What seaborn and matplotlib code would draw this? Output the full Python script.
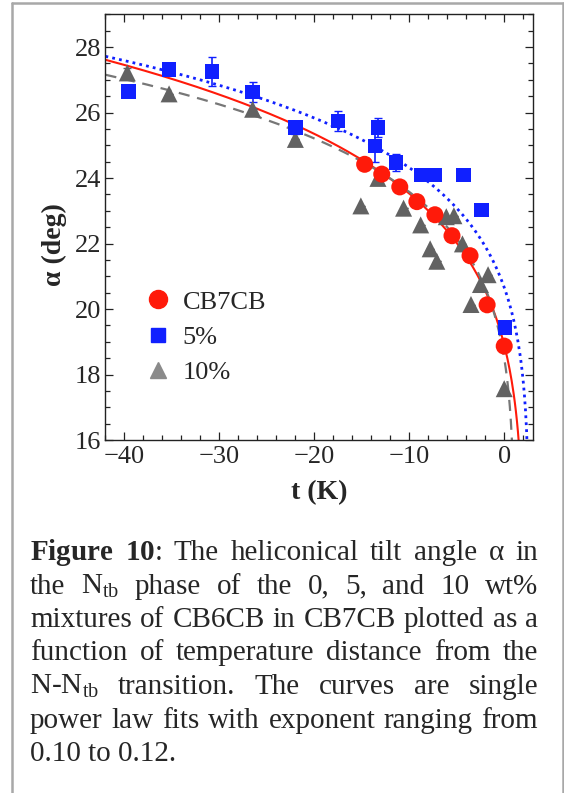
import numpy as np
import pandas as pd
import seaborn as sns
import matplotlib.pyplot as plt
from matplotlib.lines import Line2D
from matplotlib.ticker import MultipleLocator

# ---- data ----
# CB7CB (pure)
t_cb7 = [-14.7, -12.9, -11.0, -9.2, -7.3, -5.5, -3.6, -1.8, 0.0]
a_cb7 = [24.42, 24.12, 23.73, 23.28, 22.88, 22.24, 21.63, 20.13, 18.87]

# 5 wt% mixture
t_5 = [-39.6, -35.3, -30.8, -26.5, -22.0, -17.5, -13.3, -13.6, -11.4, -8.7, -7.3, -4.3, -2.4, 0.1]
a_5 = [26.65, 27.31, 27.26, 26.63, 25.54, 25.74, 25.54, 24.98, 24.47, 24.09, 24.09, 24.09, 23.02, 19.43]
err_5 = [0.15, 0.15, 0.45, 0.3, 0.2, 0.3, 0.3, 0.5, 0.25, 0, 0, 0, 0, 0]

# 10 wt% mixture
t_10 = [-39.7, -35.3, -26.5, -22.0, -15.1, -13.3, -10.6, -8.8, -7.8, -7.1, -6.1, -5.3, -4.4, -3.5, -2.5, -1.7, 0.0]
a_10 = [27.21, 26.57, 26.1, 25.18, 23.15, 23.99, 23.08, 22.57, 21.84, 21.46, 22.82, 22.85, 21.99, 20.14, 20.75, 21.05, 17.57]
err_10 = [0.15] + [0] * 16

# power law fits  alpha = A * (tc - t)^beta   (CB7CB, 5%, 10%)
fit_A = [17.3, 18.7, 18.36]
fit_tc = [2.05, 2.62, 1.075]
fit_beta = [0.1235, 0.1036, 0.104]

red = "#ff1a0a"
blue = "#1020ff"
gray = "#626262"

sns.set_style("ticks")
plt.rcParams['font.family'] = ['Liberation Serif', 'DejaVu Serif']
plt.rcParams['mathtext.fontset'] = 'custom'
plt.rcParams['mathtext.rm'] = 'Liberation Serif'
plt.rcParams['mathtext.it'] = 'Liberation Serif:italic'
plt.rcParams['mathtext.bf'] = 'Liberation Serif:bold'

fig = plt.figure(figsize=(5.64, 7.93), dpi=100)
ax = fig.add_axes([0.187, 0.445, 0.7575, 0.537])

# fit curves
styles = [dict(color=red, linestyle='-', linewidth=1.5),
          dict(color=blue, linestyle=(0, (1, 1.5)), linewidth=2.0),
          dict(color="#777777", linestyle=(0, (5, 3.5)), linewidth=1.6)]
for A, tc, b, st in zip(fit_A, fit_tc, fit_beta, styles):
    tt = np.concatenate([np.linspace(-42, tc - 0.05, 400), tc - np.logspace(-1.3, -6, 60)])
    sns.lineplot(x=tt, y=A * (tc - tt) ** b, ax=ax, sort=False, zorder=2, **st)

# error bars
ax.errorbar(t_10, a_10, yerr=err_10, fmt='none', ecolor=gray, elinewidth=1.2, capsize=3, zorder=3)
ax.errorbar(t_5, a_5, yerr=err_5, fmt='none', ecolor=blue, elinewidth=1.2, capsize=3, zorder=3)

# points
sns.scatterplot(x=t_10, y=a_10, marker='^', color=gray, s=150, edgecolor='none', ax=ax, zorder=4)
sns.scatterplot(x=t_5, y=a_5, marker='s', color=blue, s=110, edgecolor='none', ax=ax, zorder=4)
sns.scatterplot(x=t_cb7, y=a_cb7, marker='o', color=red, s=150, edgecolor='none', ax=ax, zorder=5)

ax.set_xlim(-42, 3)
ax.set_ylim(16, 29)
ax.xaxis.set_major_locator(MultipleLocator(10))
ax.xaxis.set_minor_locator(MultipleLocator(2))
ax.yaxis.set_major_locator(MultipleLocator(2))
ax.yaxis.set_minor_locator(MultipleLocator(0.5))
ax.set_yticks([16, 18, 20, 22, 24, 26, 28])
ax.tick_params(which='both', direction='in', top=True, right=True, labelsize=19, width=0.9, color='#222222', pad=4)
ax.tick_params(which='major', length=6)
ax.tick_params(which='minor', length=3.5)
ax.tick_params(axis='y', pad=3)
for sp in ax.spines.values():
    sp.set_linewidth(1.0)
    sp.set_color('#222222')

ax.set_xlabel("t (K)", fontsize=20, fontweight='bold')
ax.set_ylabel("α (deg)", fontsize=20, fontweight='bold')
ax.xaxis.set_label_coords(0.5, -0.095)
ax.yaxis.set_label_coords(-0.09, 0.46)

handles = [Line2D([], [], marker='o', color=red, linestyle='none', markersize=13),
           Line2D([], [], marker='s', color=blue, linestyle='none', markersize=10),
           Line2D([], [], marker='^', color='#8a8a8a', linestyle='none', markersize=11)]
ax.legend(handles, ["CB7CB", "5%", "10%"], loc='upper left', bbox_to_anchor=(0.02, 0.408),
          frameon=False, fontsize=19, handletextpad=0.2, labelspacing=0.45, handlelength=1.5)

# outer frame (gray lines)
for xs, ys in [([0.021, 0.021], [0, 0.996]), ([0.021, 0.998], [0.996, 0.996]), ([0.998, 0.998], [0, 0.996])]:
    fig.add_artist(Line2D(xs, ys, transform=fig.transFigure, color='#a8a8a8', linewidth=1.8))

# justified caption
W, H = 564, 793
lines = [
    [r"$\mathbf{Figure}$", r"$\mathbf{10}$:", "The", "heliconical", "tilt", "angle", "α", "in"],
    ["the", r"N$_{\mathrm{tb}}$", "phase", "of", "the", "0,", "5,", "and", "10", "wt%"],
    ["mixtures", "of", "CB6CB", "in", "CB7CB", "plotted", "as", "a"],
    ["function", "of", "temperature", "distance", "from", "the"],
    [r"N-N$_{\mathrm{tb}}$", "transition.", "The", "curves", "are", "single"],
    ["power", "law", "fits", "with", "exponent", "ranging", "from"],
]
last_line = "0.10 to 0.12."
x0, x1 = 30, 538
base0, step = 560, 33.5
cap_size = 21
renderer = fig.canvas.get_renderer()
for i, words in enumerate(lines):
    y = 1 - (base0 + i * step) / H
    texts = [fig.text(0, y, w, fontsize=cap_size, va='baseline', ha='left') for w in words]
    widths = [t.get_window_extent(renderer).width for t in texts]
    gap = (x1 - x0 - sum(widths)) / (len(words) - 1)
    x = x0
    for t, w in zip(texts, widths):
        t.set_x(x / W)
        x += w + gap
fig.text(x0 / W, 1 - (base0 + 6 * step) / H, last_line, fontsize=cap_size, va='baseline', ha='left')

fig.savefig("out.png", dpi=100)
